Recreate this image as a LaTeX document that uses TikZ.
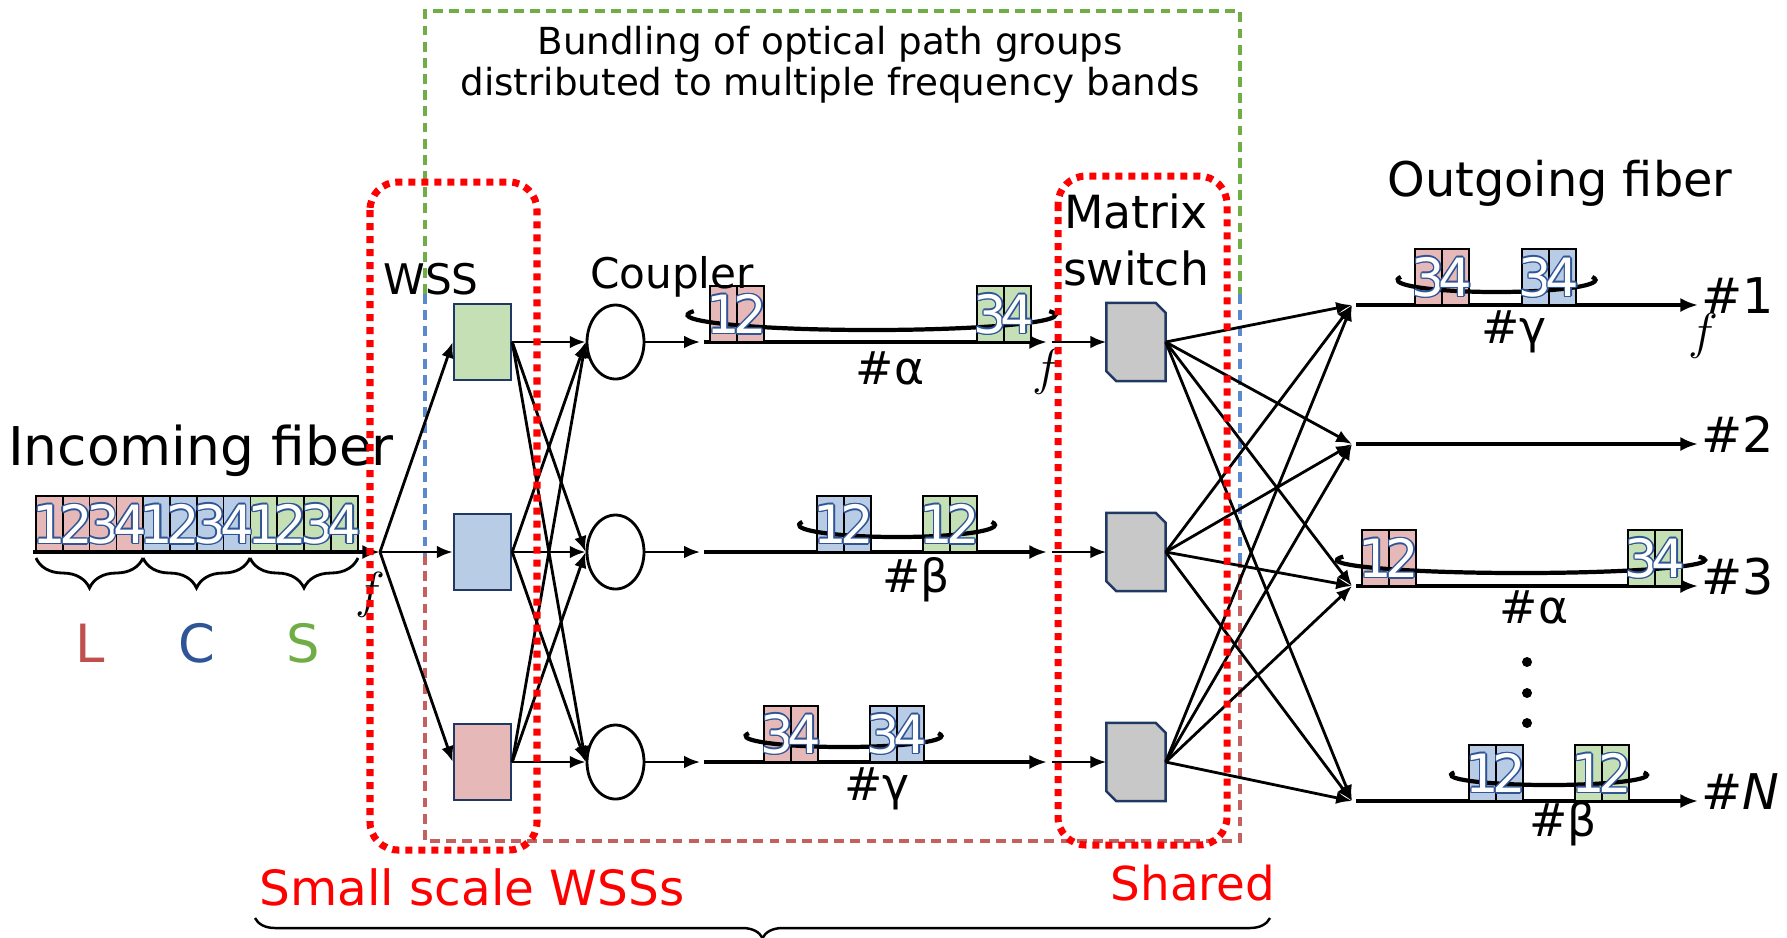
\documentclass[tikz,border=0pt]{standalone}
\usepackage{fontspec}
\setmainfont{DejaVu Sans}
\usetikzlibrary{arrows.meta, positioning, shapes.geometric, decorations.pathreplacing}

\definecolor{bandL}{RGB}{192,80,77}
\definecolor{bandC}{RGB}{47,85,151}
\definecolor{bandS}{RGB}{112,173,71}
\definecolor{cellL}{RGB}{230,185,184}
\definecolor{cellC}{RGB}{185,204,229}
\definecolor{cellS}{RGB}{197,224,180}
\definecolor{boxnavy}{RGB}{32,56,100}
\definecolor{numline}{RGB}{47,85,151}
\definecolor{grpG}{RGB}{112,173,71}
\definecolor{grpB}{RGB}{91,138,204}
\definecolor{grpR}{RGB}{196,96,96}
\definecolor{swgray}{RGB}{200,200,200}

% white digit with a thin blue outline
\newcommand{\olnum}[1]{%
  \setbox0=\hbox{#1}%
  \rlap{\color{numline}\kern0.45pt\copy0}%
  \rlap{\color{numline}\kern-0.45pt\copy0}%
  \rlap{\color{numline}\raise0.45pt\copy0}%
  \rlap{\color{numline}\lower0.45pt\copy0}%
  \rlap{\color{numline}\kern0.32pt\raise0.32pt\copy0}%
  \rlap{\color{numline}\kern-0.32pt\raise0.32pt\copy0}%
  \rlap{\color{numline}\kern0.32pt\lower0.32pt\copy0}%
  \rlap{\color{numline}\kern-0.32pt\lower0.32pt\copy0}%
  {\color{white}\copy0}}

% tie around a channel group: centre x, centre y, x radius, y radius
\newcommand{\bundlering}[4]{%
  \draw[ring] (#1,#2) ++(195:#3 and #4) arc[start angle=195, end angle=-15, x radius=#3, y radius=#4];}

\begin{document}
\begin{tikzpicture}[x=1cm, y=-1cm]

\tikzset{cell/.style = {draw, line width=0.5pt, minimum width=0.27cm, minimum height=0.56cm, inner sep=0, outer sep=0}}
\tikzset{digit/.style = {inner sep=0, font=\fontsize{15}{15}\selectfont}}
\tikzset{wss/.style = {draw=boxnavy, line width=0.7pt, minimum width=0.57cm, minimum height=0.76cm, inner sep=0}}
\tikzset{coupler/.style = {ellipse, draw, line width=0.8pt, minimum width=0.57cm, minimum height=0.74cm, inner sep=0}}
\tikzset{switch/.style = {minimum width=0.58cm, minimum height=0.77cm, inner sep=0}}
\tikzset{swbody/.style = {draw=boxnavy, fill=swgray, line width=0.7pt}}
\tikzset{edge/.style = {-{Latex[length=4.5pt,width=3.6pt]}, line width=0.8pt}}
\tikzset{fiber/.style = {-{Latex[length=5pt,width=4pt]}, line width=1.3pt}}
\tikzset{ring/.style = {line width=1.2pt}}
\tikzset{band/.style = {decorate, decoration={brace, mirror, amplitude=0.3cm}, line width=0.8pt}}
\tikzset{hashlbl/.style = {inner sep=0, font=\fontsize{13}{13}\selectfont}}
\tikzset{grp/.style = {line width=0.9pt, dash pattern=on 2.8pt off 1.8pt}}
\tikzset{share/.style = {red, line width=2pt, dash pattern=on 2pt off 1.7pt, rounded corners=0.28cm}}
\tikzset{dot/.style = {circle, fill, inner sep=0, minimum size=0.1cm}}

\useasboundingbox (0,0) rectangle (17.87,9.37);

% bundling box
\draw[grp, grpG] (4.25,2.94) -- (4.25,0.11) -- (12.40,0.11) -- (12.40,2.94);
\draw[grp, grpB] (4.25,2.94) -- (4.25,5.55);
\draw[grp, grpB] (12.40,2.94) -- (12.40,5.62);
\draw[grp, grpR] (4.25,5.55) -- (4.25,8.41) -- (12.40,8.41) -- (12.40,5.62);

% incoming band
\foreach \bd/\bc [count=\k from 0] in {L/cellL, C/cellC, S/cellS}
  \foreach \d in {1,...,4}
    \node[cell, fill=\bc, anchor=south west] (in\bd\d) at ({0.36+0.268*(4*\k+\d-1)},5.52) {};
\foreach \bd in {L,C,S}
  \foreach \d in {1,...,4}
    \node[digit] (n-in\bd\d) at (in\bd\d) {\olnum{\d}};

\coordinate (inStart) at (0.33,5.52);
\coordinate (split) at (3.80,5.52);
\draw[fiber] (inStart) -- (split);

\draw[band] (0.36,5.58) -- (1.43,5.58);
\draw[band] (1.43,5.58) -- (2.50,5.58);
\draw[band] (2.50,5.58) -- (3.58,5.58);
\node[font=\fontsize{15}{15}\selectfont, text=bandL, anchor=base] (lblL) at (0.90,6.62) {L};
\node[font=\fontsize{15}{15}\selectfont, text=bandC, anchor=base] (lblC) at (1.97,6.62) {C};
\node[font=\fontsize{15}{15}\selectfont, text=bandS, anchor=base] (lblS) at (3.03,6.62) {S};

% WSSs, couplers, matrix switches
\node[wss, fill=cellS] (wss1) at (4.825,3.42) {};
\node[wss, fill=cellC] (wss2) at (4.825,5.52) {};
\node[wss, fill=cellL] (wss3) at (4.825,7.62) {};
\node[coupler] (cp1) at (6.155,3.42) {};
\node[coupler] (cp2) at (6.155,5.52) {};
\node[coupler] (cp3) at (6.155,7.62) {};
\node[switch] (sw1) at (11.36,3.42) {};
\node[switch] (sw2) at (11.36,5.52) {};
\node[switch] (sw3) at (11.36,7.62) {};
\foreach \i in {1,2,3}
  \draw[swbody] (sw\i.north west) -- ([xshift=-0.1cm]sw\i.north east) -- ([yshift=-0.1cm]sw\i.north east)
    -- (sw\i.south east) -- ([xshift=0.1cm]sw\i.south west) -- ([yshift=0.1cm]sw\i.south west) -- cycle;

\foreach \i in {1,2,3}
  \draw[edge] (split) -- (wss\i.west);
\foreach \i in {1,2,3}
  \foreach \j in {1,2,3}
    \draw[edge] (wss\i.east) -- (cp\j.west);

% fibers between couplers and switches
\foreach \i/\ry in {1/3.42, 2/5.52, 3/7.62} {
  \coordinate (cpo\i) at (7.00,\ry);
  \coordinate (fs\i) at (7.04,\ry);
  \coordinate (fe\i) at (10.47,\ry);
  \coordinate (swi\i) at (10.52,\ry);
  \draw[edge, line width=0.7pt] (cp\i.east) -- (cpo\i);
  \draw[fiber] (fs\i) -- (fe\i);
  \draw[edge] (swi\i) -- (sw\i.west);
}

% outgoing fibers
\foreach \k/\oy/\ot in {1/3.05/1, 2/4.44/2, 3/5.86/3, N/8.01/\textit{N}} {
  \coordinate (o\k) at (13.52,\oy);
  \coordinate (os\k) at (13.56,\oy);
  \coordinate (oe\k) at (16.98,\oy);
  \draw[fiber] (os\k) -- (oe\k);
  \node[anchor=base west, inner sep=0, font=\fontsize{14}{14}\selectfont] (num\k) at (17.01,\oy+0.08) {\#\ot};
}
\foreach \i in {1,2,3}
  \foreach \k in {1,2,3,N}
    \draw[edge] (sw\i.east) -- (o\k);

% channel groups
\foreach \gx/\gy/\gc/\gn in {7.10/3.42/cellL/ga, 9.77/3.42/cellS/gb, 8.17/5.52/cellC/gc, 9.23/5.52/cellS/gd,
    7.64/7.62/cellL/ge, 8.70/7.62/cellC/gf, 14.15/3.05/cellL/gg, 15.22/3.05/cellC/gh,
    13.62/5.86/cellL/gi, 16.28/5.86/cellS/gj, 14.69/8.01/cellC/gk, 15.75/8.01/cellS/gl} {
  \node[cell, fill=\gc, anchor=south west] (\gn-a) at (\gx,\gy) {};
  \node[cell, fill=\gc, right=0pt of \gn-a] (\gn-b) {};
}

\bundlering{8.715}{3.15}{1.84}{0.15}
\bundlering{8.97}{5.25}{0.98}{0.12}
\bundlering{8.435}{7.36}{0.98}{0.11}
\bundlering{14.965}{2.80}{0.99}{0.12}
\bundlering{15.21}{5.60}{1.84}{0.13}
\bundlering{15.49}{7.75}{0.98}{0.10}

\foreach \gn/\da/\db in {ga/1/2, gb/3/4, gc/1/2, gd/1/2, ge/3/4, gf/3/4,
    gg/3/4, gh/3/4, gi/1/2, gj/3/4, gk/1/2, gl/1/2} {
  \node[digit] (\gn-da) at (\gn-a) {\olnum{\da}};
  \node[digit] (\gn-db) at (\gn-b) {\olnum{\db}};
}

% path group labels
\node[hashlbl, anchor=base] (hA) at (8.90,3.84) {\#α};
\node[hashlbl, anchor=base] (hB) at (9.16,5.92) {\#β};
\node[hashlbl, anchor=base] (hG) at (8.77,8.00) {\#γ};
\node[hashlbl, anchor=base] (oG) at (15.14,3.43) {\#γ};
\node[hashlbl, anchor=base] (oA) at (15.34,6.23) {\#α};
\node[hashlbl, anchor=base] (oB) at (15.63,8.36) {\#β};

\node[dot] (dot1) at (15.27,6.62) {};
\node[dot] (dot2) at (15.27,6.93) {};
\node[dot] (dot3) at (15.27,7.23) {};

% frequency axis marks
\node[font=\fontsize{14.4}{14.4}\selectfont] (fIn) at (3.70,5.95) {$f$};
\node[font=\fontsize{14.4}{14.4}\selectfont] (fMid) at (10.47,3.72) {$f$};
\node[font=\fontsize{14.4}{14.4}\selectfont] (fOut) at (17.03,3.36) {$f$};

% texts
\node[align=center, anchor=north, inner sep=0, font=\fontsize{10.6}{11.7}\selectfont] (title) at (8.30,0.25)
  {Bundling of optical path groups\\distributed to multiple frequency bands};
\node[anchor=base, inner sep=0, font=\fontsize{15.2}{15.2}\selectfont] (incoming) at (2.01,4.65) {Incoming fiber};
\node[anchor=base, inner sep=0, font=\fontsize{13.6}{13.6}\selectfont] (outgoing) at (15.60,1.96) {Outgoing fiber};
\node[anchor=base, inner sep=0, font=\fontsize{12}{12}\selectfont] (wssLbl) at (4.31,2.94) {WSS};
\node[anchor=base, inner sep=0, font=\fontsize{12}{12}\selectfont] (cpLbl) at (6.72,2.88) {Coupler};
\node[align=center, anchor=north, inner sep=0, font=\fontsize{13}{16.2}\selectfont] (swLbl) at (11.36,1.93) {Matrix\\switch};
\node[anchor=base, inner sep=0, text=red, font=\fontsize{13.8}{13.8}\selectfont] (smallLbl) at (4.72,9.05) {Small scale WSSs};
\node[anchor=base, inner sep=0, text=red, font=\fontsize{13.3}{13.3}\selectfont] (sharedLbl) at (11.93,9.00) {Shared};

% red dotted groupings
\draw[share] (3.70,1.82) rectangle (5.37,8.50);
\draw[share] (10.58,1.76) rectangle (12.27,8.45);

\draw[decorate, decoration={brace, mirror, amplitude=0.2cm}, line width=0.7pt] (2.55,9.18) -- (12.70,9.18);

\end{tikzpicture}
\end{document}
